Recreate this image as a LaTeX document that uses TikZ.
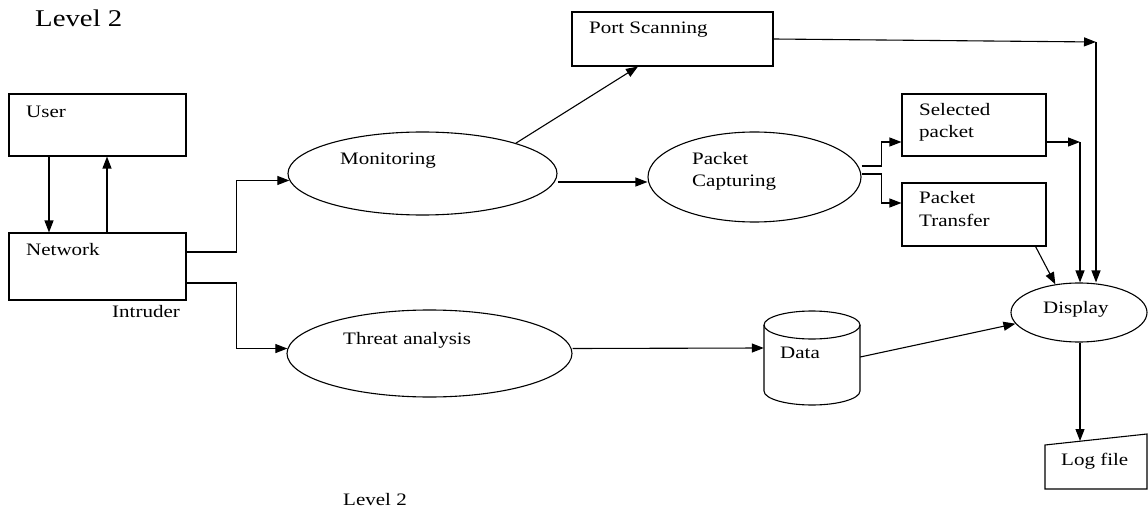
\documentclass[tikz,border=0pt]{standalone}
\usepackage{fontspec}
\setmainfont{Liberation Serif}[FakeStretch=1.2]
\usetikzlibrary{arrows.meta,shapes.geometric}
\begin{document}
\begin{tikzpicture}[x=1pt,y=-1pt,
  shp/.style={draw, line width=1.1pt, inner sep=0pt},
  boxn/.style={shp, rectangle},
  elln/.style={shp, ellipse},
  lbl/.style={inner sep=0pt, anchor=base west, font=\fontsize{17.5}{21}\selectfont},
  ttl/.style={inner sep=0pt, anchor=base west, font=\fontsize{24}{28}\selectfont},
  arr/.style={line width=1.1pt, -{Triangle[length=12pt,width=9pt]}},
  ln/.style={line width=1.1pt}]
\useasboundingbox (0,0) rectangle (1148,513);

% titles
\node[ttl] (title) at (35,27) {Level 2};
\node[lbl] (caption) at (343,505) {Level 2};

% boxes
\node[boxn, minimum width=177, minimum height=62] (user) at (97.5,125) {};
\node[lbl] (userL) at (26,118) {User};
\node[boxn, minimum width=177, minimum height=67] (network) at (97.5,266.5) {};
\node[lbl] (networkL) at (26,255) {Network};
\node[lbl] (intruderL) at (112,317) {Intruder};
\node[boxn, minimum width=201, minimum height=54] (port) at (672.5,39) {};
\node[lbl] (portL) at (589,34) {Port Scanning};
\node[boxn, minimum width=144, minimum height=62] (sel) at (974,125) {};
\node[lbl] (selL1) at (919,116) {Selected};
\node[lbl] (selL2) at (919,138) {packet};
\node[boxn, minimum width=144, minimum height=63] (pt) at (974,214.5) {};
\node[lbl] (ptL1) at (919,204) {Packet};
\node[lbl] (ptL2) at (919,226) {Transfer};

% ellipses
\node[elln, minimum width=269, minimum height=83] (mon) at (422.5,173.5) {};
\node[lbl] (monL) at (340,165) {Monitoring};
\node[elln, minimum width=213, minimum height=90] (pc) at (754.5,177) {};
\node[lbl] (pcL1) at (692,165) {Packet};
\node[lbl] (pcL2) at (692,187) {Capturing};
\node[elln, minimum width=285, minimum height=87] (threat) at (429.5,353.5) {};
\node[lbl] (threatL) at (343,344) {Threat analysis};
\node[elln, minimum width=136, minimum height=59] (display) at (1079,312.5) {};
\node[lbl] (displayL) at (1043,313) {Display};

% data store (cylinder)
\node[minimum width=96, minimum height=94, inner sep=0pt] (data) at (812,358) {};
\draw[ln] (764,325) -- (764,391)
  .. controls (764,398.73) and (785.5,405) .. (812,405)
  .. controls (838.5,405) and (860,398.73) .. (860,391) -- (860,325);
\node[elln, minimum width=96, minimum height=28] (datatop) at (812,325) {};
\node[lbl] (dataL) at (780,358) {Data};

% log file
\draw[ln] (1045,445) -- (1147,434) -- (1147,489) -- (1045,489) -- cycle;
\node[lbl] (logL) at (1061,465) {Log file};
\coordinate (logtop) at (1080,441);

% corners
\coordinate (c1) at (1096,42);
\coordinate (c2) at (1080,142);

% connectors
\draw[arr] ([xshift=-48.5pt]user.south) -- ([xshift=-48.5pt]network.north);
\draw[arr] ([xshift=9.5pt]network.north) -- ([xshift=9.5pt]user.south);
\draw[arr] ([yshift=14.5pt]network.east) -- ++(50,0) |- (mon.183.7);
\draw[arr] ([yshift=-16.5pt]network.east) -- ++(50,0) |- (threat.178.2);
\draw[arr] (mon.18) -- ([xshift=-34.5pt]port.south);
\draw[arr] ([yshift=-8.5pt]mon.east) -- ([yshift=-5pt]pc.west);
\draw[arr] (port.east) -- (c1);
\draw[arr] (c1) -- (c1 |- display.north);
\draw[arr] ([yshift=11pt]pc.east) -- ++(20,0) |- ([yshift=-17pt]sel.west);
\draw[arr] ([yshift=3pt]pc.east) -- ++(20,0) |- ([yshift=11.5pt]pt.west);
\draw[arr] ([yshift=-17pt]sel.east) -- (c2);
\draw[arr] (c2) -- (c2 |- display.north);
\draw[arr] ([xshift=-11pt]pt.south east) -- (display.130);
\draw[arr] ([yshift=5pt]threat.east) -- ([yshift=10pt]data.west);
\draw[arr] ([yshift=1pt]data.east) -- (display.190);
\draw[arr] (display.south -| logtop) -- (logtop);
\end{tikzpicture}
\end{document}
